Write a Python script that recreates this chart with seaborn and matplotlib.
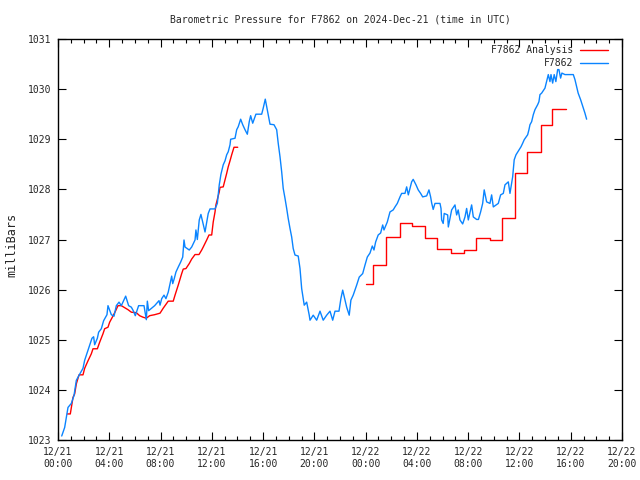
import matplotlib
matplotlib.use("Agg")
import matplotlib.pyplot as plt
import seaborn as sns
import pandas as pd
from matplotlib.ticker import MultipleLocator, FixedLocator

# ---------------- data (hours since 2024-12-21 00:00 UTC, millibars) ----------------
obs_hours = [0.29, 0.52, 0.70, 0.78, 1.04, 1.25, 1.43, 1.64, 1.95, 2.08, 2.29, 2.47, 2.65, 2.78, 2.86,
             3.07, 3.17, 3.38, 3.56, 3.82, 3.90, 4.16, 4.37, 4.55, 4.76, 4.94, 5.28, 5.51, 5.72, 5.87,
             6.03, 6.29, 6.71, 6.81, 6.89, 6.97, 7.07, 7.54, 7.88, 7.96, 8.09, 8.27, 8.42, 8.60, 8.87,
             8.95, 9.07, 9.20, 9.38, 9.57, 9.73, 9.83, 9.91, 10.24, 10.43, 10.69, 10.76, 10.87, 11.02,
             11.15, 11.29, 11.47, 11.72, 11.86, 12.25, 12.43, 12.58, 12.71, 12.89, 13.03, 13.16, 13.28,
             13.42, 13.47, 13.81, 13.94, 14.06, 14.25, 14.41, 14.59, 14.77, 14.92, 15.03, 15.19, 15.44,
             15.89, 16.01, 16.17, 16.28, 16.40, 16.54, 16.85, 17.06, 17.18, 17.32, 17.45, 17.57, 17.71,
             17.84, 17.96, 18.10, 18.23, 18.35, 18.49, 18.74, 18.88, 19.01, 19.13, 19.21, 19.40, 19.60,
             19.66, 19.91, 20.18, 20.44, 20.69, 20.96, 21.22, 21.43, 21.61, 21.92, 22.07, 22.21, 22.39,
             22.52, 22.72, 22.85, 23.03, 23.30, 23.50, 23.77, 23.95, 24.13, 24.34, 24.52, 24.65, 24.78,
             24.98, 25.17, 25.33, 25.43, 25.69, 25.90, 26.15, 26.29, 26.47, 26.68, 26.81, 27.07, 27.20,
             27.33, 27.59, 27.71, 27.93, 28.10, 28.29, 28.45, 28.76, 28.94, 29.07, 29.15, 29.27, 29.41,
             29.80, 29.88, 29.93, 30.05, 30.13, 30.40, 30.45, 30.71, 30.97, 31.10, 31.22, 31.36, 31.57,
             31.75, 31.88, 32.01, 32.27, 32.40, 32.66, 32.80, 32.97, 33.13, 33.25, 33.36, 33.44, 33.70,
             33.83, 33.96, 34.35, 34.53, 34.74, 34.87, 35.13, 35.26, 35.47, 35.59, 35.73, 35.98, 36.12,
             36.25, 36.37, 36.64, 36.74, 36.82, 36.95, 37.08, 37.21, 37.42, 37.52, 37.60, 37.73, 37.99,
             38.25, 38.38, 38.46, 38.59, 38.71, 38.84, 38.98, 39.08, 39.21, 39.31, 39.55, 40.20, 40.33,
             40.46, 40.58, 40.77, 40.98, 41.11, 41.24]
obs_mb = [1023.08, 1023.25, 1023.53, 1023.65, 1023.73, 1023.89, 1024.19, 1024.29, 1024.43, 1024.59,
          1024.75, 1024.89, 1025.03, 1025.06, 1024.90, 1025.03, 1025.15, 1025.22, 1025.38, 1025.50,
          1025.68, 1025.50, 1025.47, 1025.68, 1025.75, 1025.68, 1025.87, 1025.68, 1025.65, 1025.58,
          1025.48, 1025.68, 1025.68, 1025.52, 1025.40, 1025.77, 1025.58, 1025.68, 1025.78, 1025.69,
          1025.82, 1025.89, 1025.82, 1025.95, 1026.27, 1026.12, 1026.22, 1026.35, 1026.45, 1026.55,
          1026.65, 1026.99, 1026.85, 1026.79, 1026.85, 1026.99, 1027.19, 1027.00, 1027.39, 1027.50,
          1027.35, 1027.15, 1027.52, 1027.61, 1027.61, 1027.72, 1028.09, 1028.30, 1028.49, 1028.57,
          1028.69, 1028.75, 1028.89, 1029.00, 1029.02, 1029.19, 1029.25, 1029.40, 1029.29, 1029.19,
          1029.10, 1029.35, 1029.47, 1029.32, 1029.50, 1029.50, 1029.62, 1029.80, 1029.65, 1029.49,
          1029.30, 1029.29, 1029.19, 1028.92, 1028.65, 1028.35, 1028.02, 1027.82, 1027.62, 1027.42,
          1027.22, 1027.05, 1026.82, 1026.69, 1026.67, 1026.42, 1026.02, 1025.82, 1025.69, 1025.75,
          1025.49, 1025.39, 1025.49, 1025.39, 1025.57, 1025.39, 1025.49, 1025.57, 1025.39, 1025.57,
          1025.57, 1025.82, 1025.99, 1025.79, 1025.65, 1025.49, 1025.79, 1025.89, 1026.09, 1026.25,
          1026.32, 1026.49, 1026.65, 1026.73, 1026.87, 1026.79, 1026.95, 1027.09, 1027.13, 1027.29,
          1027.19, 1027.35, 1027.55, 1027.59, 1027.65, 1027.72, 1027.85, 1027.92, 1027.92, 1028.05,
          1027.89, 1028.15, 1028.20, 1028.09, 1027.99, 1027.92, 1027.85, 1027.87, 1027.99, 1027.85,
          1027.73, 1027.60, 1027.72, 1027.72, 1027.62, 1027.39, 1027.32, 1027.52, 1027.49, 1027.25,
          1027.59, 1027.69, 1027.49, 1027.59, 1027.39, 1027.31, 1027.45, 1027.62, 1027.39, 1027.69,
          1027.45, 1027.40, 1027.40, 1027.55, 1027.72, 1027.99, 1027.85, 1027.75, 1027.72, 1027.89,
          1027.65, 1027.72, 1027.89, 1027.92, 1028.09, 1028.15, 1027.92, 1028.25, 1028.59, 1028.69,
          1028.79, 1028.85, 1028.92, 1028.99, 1029.09, 1029.19, 1029.29, 1029.35, 1029.49, 1029.59,
          1029.69, 1029.75, 1029.89, 1029.92, 1030.02, 1030.29, 1030.15, 1030.29, 1030.12, 1030.29,
          1030.15, 1030.39, 1030.39, 1030.22, 1030.32, 1030.29, 1030.29, 1030.19, 1030.05, 1029.92,
          1029.79, 1029.62, 1029.52, 1029.40]

ana1_hours = [0.73, 0.96, 1.17, 1.30, 1.43, 1.64, 1.95, 2.08, 2.34, 2.60, 2.73, 3.07, 3.25, 3.51, 3.64,
              3.90, 4.03, 4.24, 4.50, 4.68, 4.94, 5.46, 5.72, 6.11, 6.37, 6.63, 6.89, 7.15, 7.54, 7.96,
              8.21, 8.60, 8.99, 9.13, 9.38, 9.65, 9.77, 9.98, 10.24, 10.43, 10.69, 11.00, 11.21, 11.33,
              11.60, 11.78, 11.99, 12.11, 12.25, 12.32, 12.58, 12.64, 12.89, 13.03, 13.16, 13.28, 13.42,
              13.55, 13.67, 13.73, 14.02]
ana1_mb = [1023.52, 1023.52, 1023.85, 1023.92, 1024.12, 1024.30, 1024.30, 1024.43, 1024.58, 1024.72,
           1024.82, 1024.82, 1024.95, 1025.12, 1025.22, 1025.25, 1025.35, 1025.45, 1025.58, 1025.68,
           1025.68, 1025.60, 1025.55, 1025.54, 1025.48, 1025.45, 1025.43, 1025.48, 1025.50, 1025.53,
           1025.63, 1025.77, 1025.77, 1025.89, 1026.09, 1026.32, 1026.41, 1026.42, 1026.52, 1026.61,
           1026.70, 1026.70, 1026.79, 1026.85, 1026.99, 1027.09, 1027.09, 1027.35, 1027.55, 1027.69,
           1027.95, 1028.04, 1028.05, 1028.19, 1028.32, 1028.45, 1028.57, 1028.69, 1028.79, 1028.84,
           1028.84]

ana2_hours = [24.03, 24.60, 25.56, 26.68, 27.59, 28.60, 29.59, 30.63, 31.65, 32.60, 33.70, 34.60,
              35.65, 36.55, 37.65, 38.56, 39.63]
ana2_mb = [1026.11, 1026.50, 1027.04, 1027.32, 1027.27, 1027.02, 1026.82, 1026.74, 1026.79, 1027.02,
           1027.00, 1027.42, 1028.32, 1028.75, 1029.29, 1029.60, 1029.60]

tick_hours = [0, 4, 8, 12, 16, 20, 24, 28, 32, 36, 40, 44]
tick_labels = ["12/21\n00:00", "12/21\n04:00", "12/21\n08:00", "12/21\n12:00", "12/21\n16:00",
               "12/21\n20:00", "12/22\n00:00", "12/22\n04:00", "12/22\n08:00", "12/22\n12:00",
               "12/22\n16:00", "12/22\n20:00"]
y_ticks = [1023, 1024, 1025, 1026, 1027, 1028, 1029, 1030, 1031]

title = "Barometric Pressure for F7862 on 2024-Dec-21 (time in UTC)"
ylabel = "milliBars"
ana_label = "F7862 Analysis"
obs_label = "F7862"

# ---------------- plot ----------------
sns.set_style("white")
plt.rcParams["font.family"] = ["DejaVu Sans Mono"]
plt.rcParams["font.size"] = 7

RED = "#ff0000"
BLUE = "#0a84ff"

fig = plt.figure(figsize=(6.4, 4.8), dpi=100)
ax = fig.add_axes([58 / 640, 1 - 440 / 480, 564 / 640, 401 / 480])

df_a1 = pd.DataFrame({"t": ana1_hours, "p": ana1_mb})
df_a2 = pd.DataFrame({"t": ana2_hours, "p": ana2_mb})
df_o = pd.DataFrame({"t": obs_hours, "p": obs_mb})

sns.lineplot(data=df_a1, x="t", y="p", ax=ax, color=RED, lw=1.0, estimator=None, sort=False,
             label=ana_label)
sns.lineplot(data=df_a2, x="t", y="p", ax=ax, color=RED, lw=1.0, estimator=None, sort=False,
             drawstyle="steps-post", label="_nolegend_")
sns.lineplot(data=df_o, x="t", y="p", ax=ax, color=BLUE, lw=1.0, estimator=None, sort=False,
             label=obs_label)

ax.set_xlim(tick_hours[0], tick_hours[-1])
ax.set_ylim(y_ticks[0], y_ticks[-1])
ax.xaxis.set_major_locator(FixedLocator(tick_hours))
ax.set_xticklabels(tick_labels)
ax.xaxis.set_minor_locator(MultipleLocator(1))
ax.set_yticks(y_ticks)
ax.set_yticklabels([str(v) for v in y_ticks])

ax.tick_params(which="both", direction="in", top=True, right=True, bottom=True, left=True,
               color="black", width=0.8, labelsize=7)
ax.tick_params(which="major", length=6, pad=5)
ax.tick_params(which="minor", length=3)
for s in ax.spines.values():
    s.set_color("black")
    s.set_linewidth(1.0)

ax.set_xlabel("")
ax.set_ylabel(ylabel, fontsize=8.5)
ax.yaxis.set_label_coords(-40 / 564, 0.486)
ax.set_title(title, fontsize=7, pad=12)

leg = ax.legend(loc="upper right", bbox_to_anchor=(1 - 12 / 564, 1 - 4 / 401),
                frameon=False, markerfirst=False, fontsize=7,
                handlelength=2.9, handletextpad=0.7, labelspacing=0.35,
                borderaxespad=0.0, borderpad=0.2)

fig.savefig("out.png", dpi=100)
